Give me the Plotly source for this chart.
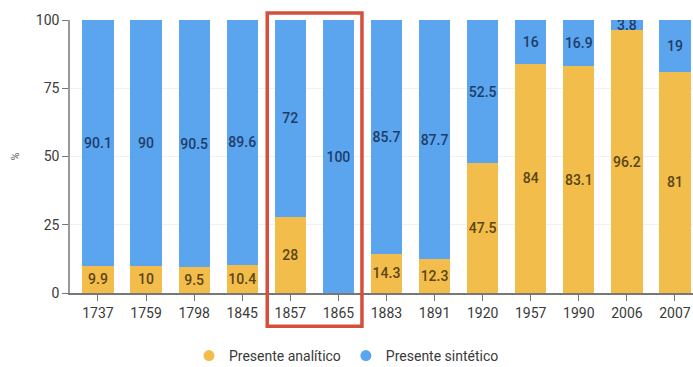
import plotly.graph_objects as go

years = ["1737", "1759", "1798", "1845", "1857", "1865", "1883", "1891", "1920", "1957", "1990", "2006", "2007"]
analitico = [9.9, 10, 9.5, 10.4, 28, 0, 14.3, 12.3, 47.5, 84, 83.1, 96.2, 81]
sintetico = [90.1, 90, 90.5, 89.6, 72, 100, 85.7, 87.7, 52.5, 16, 16.9, 3.8, 19]
y_ticks = [0, 25, 50, 75, 100]

YEL = "#F2BD4A"
BLU = "#5AA5EE"

def fmt(v):
    return "" if v == 0 else ("%g" % v)

fig = go.Figure()
fig.add_trace(go.Bar(
    x=years, y=analitico, name="Presente analítico", marker_color=YEL,
    text=[fmt(v) for v in analitico], textposition="inside", insidetextanchor="middle",
    textangle=0, constraintext="none",
    textfont=dict(color="#5a4516", size=14, family="Roboto", weight=500),
    showlegend=False, marker_line_width=0,
))
fig.add_trace(go.Bar(
    x=years, y=sintetico, name="Presente sintético", marker_color=BLU,
    text=[fmt(v) for v in sintetico], textposition="inside", insidetextanchor="middle",
    textangle=0, constraintext="none",
    textfont=dict(color="#1e3d6b", size=14, family="Roboto", weight=500),
    showlegend=False, marker_line_width=0,
))
fig.add_trace(go.Scatter(x=[None], y=[None], mode="markers", name="Presente analítico",
                         marker=dict(color=YEL, size=11, symbol="circle")))
fig.add_trace(go.Scatter(x=[None], y=[None], mode="markers", name="Presente sintético",
                         marker=dict(color=BLU, size=11, symbol="circle")))

fig.add_shape(type="rect", xref="x", yref="paper", x0=3.52, x1=5.49, y0=-0.122, y1=1.026,
              line=dict(color="#D4503C", width=3.5), fillcolor="rgba(0,0,0,0)", layer="above")

fig.update_layout(
    width=693, height=367,
    margin=dict(l=70, r=0, t=20, b=74),
    barmode="stack", bargap=0.35,
    plot_bgcolor="white", paper_bgcolor="white",
    font=dict(family="Roboto", size=14, color="#3a3a3a"),
    legend=dict(orientation="h", x=0.5, xanchor="center", xref="container",
                y=0.03, yanchor="middle", yref="container", traceorder="normal",
                font=dict(size=14, color="#3a3a3a")),
)
fig.update_xaxes(type="category", range=[-0.582, 12.375], showline=True, linecolor="#777",
                 linewidth=1.5, ticks="outside", ticklen=6, tickcolor="#777",
                 tickfont=dict(size=14, color="#3a3a3a"), showgrid=False)
fig.update_yaxes(range=[0, 100], tickvals=y_ticks, showline=True, linecolor="#999", linewidth=1.5,
                 ticks="outside", ticklen=6, tickcolor="#777", showgrid=True, gridcolor="#f0f0f0",
                 tickfont=dict(size=14, color="#3a3a3a"),
                 title=dict(text="%", font=dict(size=11, color="#666"), standoff=14), zeroline=False)

fig.write_html("out.html")
